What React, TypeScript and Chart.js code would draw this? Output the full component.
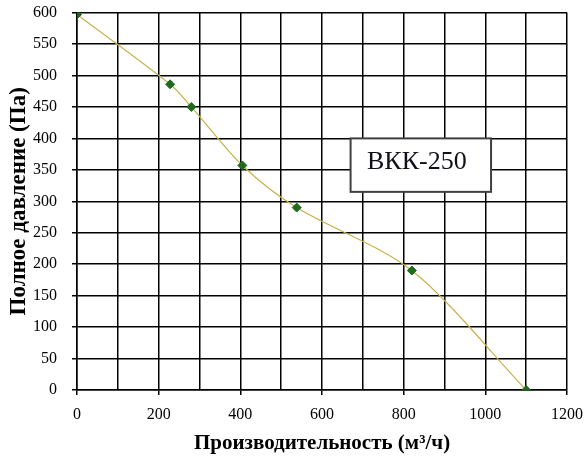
import { useEffect, useRef } from 'react'
import { Chart, registerables } from 'chart.js'

Chart.register(...registerables)

// Fan curve ВКК-250: flow (m³/h) vs total pressure (Pa)
const flow = [0, 228, 280, 405, 538, 820, 1100]
const pressure = [597, 486, 450, 357, 290, 190, 0]

const xTicks = [0, 1200, 100]  // min, max, grid step
const yTicks = [0, 600, 50]
const xLabelStep = 200

const boxLabel = 'ВКК-250'
const boxX = [670, 1014]   // in flow units
const boxY = [400, 315]    // in pressure units

const SERIF = '"Liberation Serif", "Times New Roman", serif'

const boxPlugin = {
  id: 'modelBox',
  afterDraw(chart: any) {
    const { ctx, scales } = chart
    const l = scales.x.getPixelForValue(boxX[0])
    const r = scales.x.getPixelForValue(boxX[1])
    const t = scales.y.getPixelForValue(boxY[0])
    const b = scales.y.getPixelForValue(boxY[1])
    ctx.save()
    ctx.fillStyle = '#fff'
    ctx.fillRect(l, t, r - l, b - t)
    ctx.strokeStyle = '#404040'
    ctx.lineWidth = 2
    ctx.strokeRect(l, t, r - l, b - t)
    ctx.fillStyle = '#10101a'
    ctx.font = `26px ${SERIF}`
    ctx.textAlign = 'center'
    ctx.textBaseline = 'middle'
    ctx.fillText(boxLabel, (l + r) / 2 - 4, (t + b) / 2 - 3)
    ctx.restore()
  },
}

export default function App() {
  const canvasRef = useRef<HTMLCanvasElement>(null)

  useEffect(() => {
    if (!canvasRef.current) return
    const chart = new Chart(canvasRef.current, {
      type: 'scatter',
      data: {
        datasets: [{
          data: flow.map((x, i) => ({ x, y: pressure[i] })),
          showLine: true,
          borderColor: '#c9b24e',
          borderWidth: 1.2,
          tension: 0.3,
          pointStyle: 'rectRot',
          pointRadius: 4.5,
          pointBackgroundColor: '#1d6b1d',
          pointBorderColor: '#1d6b1d',
          pointBorderWidth: 1,
        }],
      },
      options: {
        animation: false,
        responsive: false,
        layout: { padding: { top: 0, right: 12, left: 0, bottom: 0 } },
        plugins: { legend: { display: false }, tooltip: { enabled: false } },
        scales: {
          x: {
            type: 'linear',
            min: xTicks[0],
            max: xTicks[1],
            afterFit: (s: any) => { s.height = 72 },
            border: { color: '#000', width: 1.5 },
            grid: {
              color: '#000',
              lineWidth: 1.5,
              tickLength: 5,
              tickColor: (c: any) => (c.tick && c.tick.value % xLabelStep === 0 ? '#000' : 'rgba(0,0,0,0)'),
            },
            ticks: {
              stepSize: xTicks[2],
              padding: 10,
              color: '#000',
              font: { size: 16, family: SERIF },
              callback: (v: any) => (v % xLabelStep === 0 ? String(v) : ''),
            },
            title: {
              display: true,
              text: 'Производительность (м³/ч)',
              color: '#000',
              font: { size: 21, weight: 'bold', family: SERIF },
              padding: { top: 0, bottom: 6 },
            },
          },
          y: {
            type: 'linear',
            min: yTicks[0],
            max: yTicks[1],
            afterFit: (s: any) => { s.width = 77 },
            border: { color: '#000', width: 1.5 },
            grid: { color: '#000', lineWidth: 1.5, tickLength: 5, tickColor: '#000' },
            ticks: {
              stepSize: yTicks[2],
              padding: 15,
              color: '#000',
              font: { size: 16, family: SERIF },
            },
            title: {
              display: true,
              text: 'Полное давление (Па)',
              color: '#000',
              font: { size: 23, weight: 'bold', family: SERIF },
              padding: { top: 5, bottom: 4 },
            },
          },
        },
      },
      plugins: [boxPlugin],
    })
    return () => { chart.destroy() }
  }, [])

  // canvas is a little larger than the page so the plot area lands where the reference has it
  return (
    <div style={{ position: 'fixed', left: 0, top: -12, width: 593, height: 474, background: '#fff' }}>
      <canvas ref={canvasRef} width={593} height={474} />
    </div>
  )
}
